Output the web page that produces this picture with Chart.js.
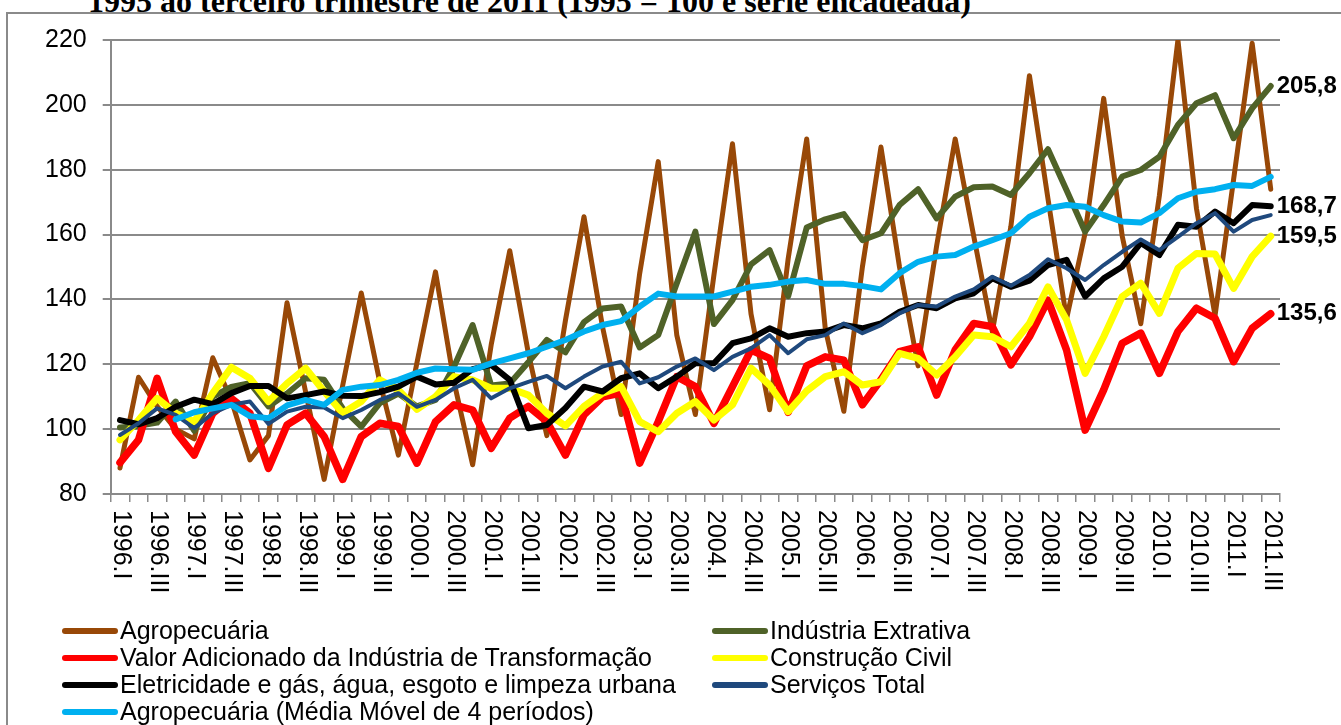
<!DOCTYPE html>
<html>
<head>
<meta charset="utf-8">
<script src="https://cdn.jsdelivr.net/npm/chart.js@4.4.0/dist/chart.umd.min.js"></script>
<style>
  body { margin: 0; width: 1341px; height: 725px; overflow: hidden; background: #fff; position: relative;
         font-family: "Liberation Sans", Arial, sans-serif; }
  #frame { position: absolute; left: 6px; top: 12px; width: 1400px; height: 800px;
           border-left: 2px solid #8a8a8a; border-top: 2px solid #8a8a8a; }
  #title { position: absolute; left: 88px; top: -17px; white-space: nowrap; line-height: 32px;
           font: bold 32px "Liberation Serif", "Times New Roman", serif; }
  #chart { position: absolute; left: 0; top: 0; }
  .lg-item { position: absolute; height: 27px; display: flex; align-items: center; font-size: 25px; white-space: nowrap; color: #000; }
  .lg-line { width: 56px; height: 6px; border-radius: 3px; margin-right: 2px; }
</style>
</head>
<body>
<div id="frame"></div>
<div id="title">1995 ao terceiro trimestre de 2011 (1995 = 100 e série encadeada)</div>
<canvas id="chart" width="1341" height="725"></canvas>
<div id="legend"></div>
<script>
// categories: quarters 1996.I .. 2011.III
var years = [1996, 1997, 1998, 1999, 2000, 2001, 2002, 2003, 2004, 2005, 2006, 2007, 2008, 2009, 2010, 2011];
var quarters = ['I', 'II', 'III', 'IV'];
var categories = [];
years.forEach(function (y) {
    quarters.forEach(function (q) {
        if (y === 2011 && q === 'IV') return;
        categories.push(y + '.' + q);
    });
});

// series values (1995 = 100)
var agropecuaria = [88, 116, 107, 100, 97, 122, 109, 90.5, 98, 139, 111.5, 84.5, 113.5, 142, 114.5, 92,
    120.5, 148.5, 114.5, 89, 126, 155, 123.5, 98, 133.5, 165.5, 131.5, 104.5, 148, 182.5, 129, 104.5,
    147.5, 188, 135.5, 106, 152.5, 189.5, 131, 105.5, 150, 187, 150, 119.5, 156.5, 189.5, 159.5, 130,
    162.5, 209, 171, 134, 160.5, 202, 159.5, 132.5, 172, 220, 168, 135, 177, 219, 174];
var extrativa = [100.5, 101, 102, 108.5, 99.5, 110, 113, 114.2, 107, 111, 115.7, 115.2, 106.4, 100.8, 108, 111,
    107, 109, 119.3, 132.1, 113.5, 114.1, 120.6, 127.5, 123.7, 133, 137.2, 137.8, 125.2, 129, 145, 160.9,
    132.4, 139.8, 150.8, 155.2, 141, 162.2, 164.7, 166.3, 158.3, 160.4, 169.1, 174, 165, 171.7, 174.6, 174.8,
    172.2, 178.9, 186.3, 173.7, 160.9, 169.1, 177.9, 179.9, 184, 193.8, 200.5, 203, 189.7, 198.9, 205.8];
var transformacao = [89.7, 96.7, 115.7, 99.2, 92, 104.9, 109.5, 104.9, 87.9, 101.3, 104.9, 97.7, 84.5, 97.7, 101.8, 100.8,
    89.5, 102.3, 107.5, 105.9, 94.1, 103.4, 107, 102.3, 92, 104.4, 110, 111.1, 89.5, 102.3, 116.2, 113.1,
    101.8, 113.1, 124.4, 121.8, 105.2, 119.5, 122.3, 121.3, 107.5, 115.2, 123.9, 125.4, 110.5, 124.4, 132.6, 131.6,
    119.8, 128.5, 139.8, 124.4, 99.7, 112.1, 126.5, 129.6, 117.2, 130.1, 137.3, 134.2, 120.8, 131.1, 135.6];
var construcao = [96.7, 102.8, 109.5, 104.9, 102.3, 111.1, 119.1, 115.7, 108.5, 114.1, 118.8, 111.6, 105, 108.5, 115.2, 112.1,
    106.1, 110, 116.2, 115.2, 112.6, 112.6, 110.5, 104.9, 101, 107, 111.1, 113.1, 102.3, 99.2, 104.9, 108.5,
    102.8, 107.5, 118.8, 113.6, 105.4, 111.8, 116.2, 117.7, 113.6, 114.6, 123.4, 121.8, 116.7, 122.3, 129, 128.5,
    125.4, 132.6, 143.9, 133.7, 117.2, 128.5, 140.9, 145, 135.7, 149.6, 154.2, 154, 143.4, 153.2, 159.5];
var eletricidade = [102.8, 101.5, 103.4, 106.9, 109.1, 107.7, 111.1, 113.3, 113.3, 109.5, 110.5, 111.6, 110.3, 110.2, 111.4, 113.1,
    116.2, 113.8, 114.3, 118.5, 119.8, 115.2, 100.3, 101.3, 106.5, 113.1, 111.6, 115.7, 117.2, 112.6, 116.2, 120.3,
    120.3, 126.5, 128, 131.1, 128.5, 129.6, 130.1, 132.1, 131.1, 132.6, 136.2, 138.3, 137.3, 140.3, 141.9, 146.5,
    143.9, 145.8, 150.6, 152.2, 140.9, 146.5, 150.1, 157.4, 153.7, 163, 162.4, 167.1, 163.5, 169.1, 168.7];
var servicos = [98.2, 101.8, 106.4, 104.4, 100.3, 104.9, 107.5, 108.5, 101.6, 105.4, 106.9, 106.7, 103.4, 105.9, 109, 111.1,
    106.9, 109, 112.6, 115.2, 109.5, 112.6, 114.6, 116.4, 112.6, 116.2, 119.3, 120.8, 114.1, 116, 119.3, 121.8,
    118.2, 122.3, 124.9, 129, 123.4, 127.7, 129, 132.6, 129.6, 132.1, 135.7, 138.3, 137.8, 140.9, 143.1, 147,
    144.2, 147.5, 152.4, 149.6, 146, 150.6, 154.7, 158.5, 155.2, 159.3, 163.5, 166.6, 160.9, 164.5, 166];
var agroMediaMovel = [null, null, null, 103, 105.2, 106.4, 107.5, 104, 103.4, 107.3, 109, 107.5, 112.1, 113.1, 113.6, 115.2,
    117.4, 118.7, 118.5, 118.3, 120.3, 121.8, 123.4, 125.4, 127.5, 130.1, 132.1, 133.3, 137.8, 141.8, 140.9, 140.9,
    140.9, 142.4, 143.9, 144.5, 145.5, 146, 144.8, 144.8, 144.1, 143.1, 148.1, 151.6, 153.2, 153.7, 156.3, 158.3,
    160.4, 165.5, 168.1, 169.1, 168.6, 166, 164, 163.7, 166.6, 171.2, 173.2, 174, 175.3, 175, 177.8];

var seriesNames = ['Agropecuária', 'Indústria Extrativa', 'Valor Adicionado da Indústria de Transformação',
    'Construção Civil', 'Eletricidade e gás, água, esgoto e limpeza urbana', 'Serviços Total',
    'Agropecuária (Média Móvel de 4 períodos)'];
var seriesData = [agropecuaria, extrativa, transformacao, construcao, eletricidade, servicos, agroMediaMovel];
var seriesColors = ['#984807', '#4F6228', '#FF0000', '#FFFF00', '#000000', '#1F497D', '#00B0F0'];
var seriesWidths = [5, 6, 7.5, 7, 6, 4, 6];
var endLabels = ['', '205,8', '135,6', '159,5', '168,7', '', ''];

var fontFamily = '"Liberation Sans", Arial, sans-serif';
var gridGrey = '#8a8a8a';

// rotated category labels (top-to-bottom), every other quarter
var quarterLabels = {
    id: 'quarterLabels',
    afterDraw: function (chart) {
        var xs = chart.scales.x;
        var ctx = chart.ctx;
        ctx.save();
        ctx.font = '25px ' + fontFamily;
        ctx.fillStyle = '#000';
        ctx.textAlign = 'left';
        ctx.textBaseline = 'middle';
        categories.forEach(function (lab, i) {
            if (i % 2) return;
            ctx.save();
            ctx.translate(xs.getPixelForValue(i) + 1, xs.top + 16);
            ctx.rotate(Math.PI / 2);
            ctx.fillText(lab, 0, 0);
            ctx.restore();
        });
        ctx.restore();
    }
};

// values written after the last point of some series
var lastValues = {
    id: 'lastValues',
    afterDatasetsDraw: function (chart) {
        var ctx = chart.ctx;
        ctx.save();
        ctx.font = 'bold 24px ' + fontFamily;
        ctx.fillStyle = '#000';
        ctx.textAlign = 'left';
        ctx.textBaseline = 'middle';
        endLabels.forEach(function (txt, i) {
            if (!txt) return;
            var pts = chart.getDatasetMeta(i).data;
            var p = pts[pts.length - 1];
            ctx.fillText(txt, p.x + 6, p.y);
        });
        ctx.restore();
    }
};

var datasets = seriesNames.map(function (name, i) {
    return {
        label: name,
        data: seriesData[i],
        borderColor: seriesColors[i],
        backgroundColor: seriesColors[i],
        borderWidth: seriesWidths[i],
        pointRadius: 0,
        tension: 0,
        borderCapStyle: 'round',
        borderJoinStyle: 'round',
        order: seriesNames.length - i
    };
});

var chart = new Chart(document.getElementById('chart').getContext('2d'), {
    type: 'line',
    data: { labels: categories, datasets: datasets },
    options: {
        responsive: false,
        animation: false,
        layout: { padding: { left: 0, right: 61, top: 40, bottom: 0 } },
        plugins: { legend: { display: false }, tooltip: { enabled: false } },
        scales: {
            x: {
                offset: true,
                grid: { offset: true, drawOnChartArea: false, drawTicks: true, tickLength: 8, color: gridGrey, lineWidth: 1.5 },
                border: { color: gridGrey, width: 2 },
                ticks: { display: false },
                afterFit: function (scale) { scale.height = 231; }
            },
            y: {
                min: 80,
                max: 220,
                ticks: { stepSize: 20, color: '#000', padding: 16, font: { size: 25, family: fontFamily } },
                grid: { color: gridGrey, lineWidth: 2, tickLength: 8 },
                border: { color: gridGrey, width: 2 },
                afterFit: function (scale) { scale.width = 110.7; }
            }
        }
    },
    plugins: [quarterLabels, lastValues]
});

// two-column legend under the chart
var legendBox = document.getElementById('legend');
chart.data.datasets.forEach(function (ds, i) {
    var item = document.createElement('div');
    item.className = 'lg-item';
    item.style.left = (i % 2 ? 712 : 62) + 'px';
    item.style.top = (617 + Math.floor(i / 2) * 27) + 'px';
    var line = document.createElement('span');
    line.className = 'lg-line';
    line.style.background = ds.borderColor;
    var txt = document.createElement('span');
    txt.textContent = ds.label;
    item.appendChild(line);
    item.appendChild(txt);
    legendBox.appendChild(item);
});
</script>
</body>
</html>
